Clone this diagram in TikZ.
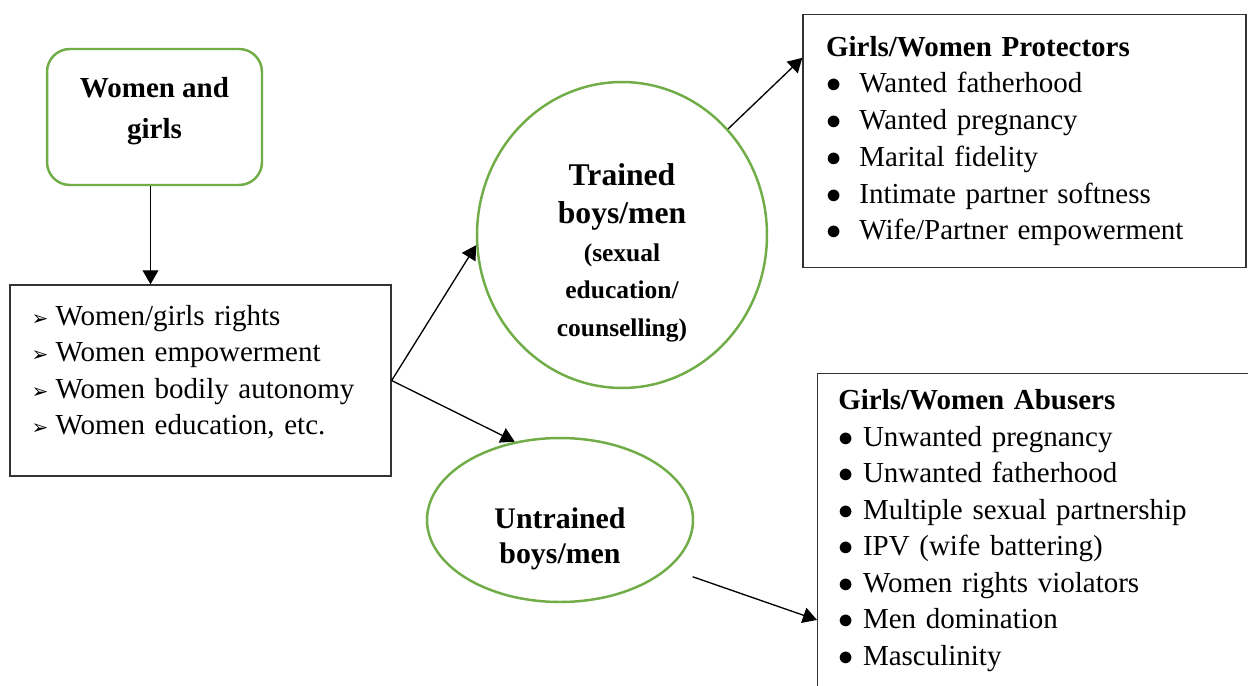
\documentclass[tikz,border=0pt]{standalone}
\usepackage{fontspec}
\setmainfont{Liberation Serif}
\newfontfamily\symfont{DejaVu Sans}
\usepackage{tikz}
\usetikzlibrary{shapes.geometric,arrows.meta}
\definecolor{grn}{HTML}{70AD47}
\definecolor{edge}{HTML}{333333}
\newcommand{\bul}[2]{\makebox[#1][l]{$\bullet$}#2}
\newcommand{\arh}[1]{\makebox[0.83em][l]{\symfont\fontsize{11.5}{11.5}\selectfont ➢}#1}
\tikzset{
  grnbox/.style={draw=grn, line width=1.4pt, rounded corners=13pt},
  grnoval/.style={draw=grn, line width=1.4pt, ellipse, inner sep=0pt},
  listbox/.style={draw=edge, line width=0.8pt, align=left},
  boldtxt/.style={align=center},
  arr/.style={-{Triangle[length=8pt,width=9pt]}, line width=0.75pt}
}

\begin{document}
\begin{tikzpicture}[x=0.02cm, y=-0.02cm]
  \clip (0,0) rectangle (1248,686);
  \fill[white] (0,0) rectangle (1248,686);

  % left column
  \node[grnbox, minimum width=4.3cm, minimum height=2.72cm] (women) at (154.5,117) {};
  \node[boldtxt, font=\fontsize{16.5}{23}\selectfont\bfseries] (womentxt) at (154.5,111) {Women and\\girls};
  \node[listbox, minimum width=7.62cm, minimum height=3.82cm] (rights) at (200.5,380.5) {};
  \node[align=left, text width=6.7cm, font=\fontsize{16.5}{20.7}\selectfont] (rightstxt) at (199,372)
    {\arh{Women/girls rights}\\ \arh{Women empowerment}\\ \arh{Women bodily autonomy}\\ \arh{Women education, etc.}};

  % the two groups of boys/men
  \node[grnoval, minimum width=5.8cm, minimum height=6.12cm] (trained) at (622,235) {};
  \node[boldtxt, font=\fontsize{18}{21.4}\selectfont\bfseries] (trainedtxt) at (622,253)
    {Trained\\ boys/men\\ \fontsize{14.5}{20.5}\selectfont (sexual\\
     \fontsize{14.5}{20.5}\selectfont education/\\ \fontsize{14.5}{20.5}\selectfont counselling)};
  \node[grnoval, minimum width=5.32cm, minimum height=3.28cm] (untrained) at (560,520) {};
  \node[boldtxt, font=\fontsize{17}{20}\selectfont\bfseries] (untrainedtxt) at (560,539) {Untrained\\boys/men};

  % outcomes
  \node[listbox, minimum width=8.86cm, minimum height=5.06cm, inner xsep=0.46cm,
        text width=7.94cm, font=\fontsize{16.5}{20.9}\selectfont] (protectors) at (1024.5,141)
    {\textbf{Girls/Women Protectors}\\ \bul{1.15em}{Wanted fatherhood}\\ \bul{1.15em}{Wanted pregnancy}\\
     \bul{1.15em}{Marital fidelity}\\ \bul{1.15em}{Intimate partner softness}\\ \bul{1.15em}{Wife/Partner empowerment}};
  \node[listbox, anchor=north west, minimum width=9.2cm, minimum height=7cm] (abusers) at (817,373) {};
  \node[align=left, anchor=north west, inner sep=0pt, text width=8.2cm,
        font=\fontsize{16.5}{20.8}\selectfont] (abuserstxt) at (838,389)
    {\textbf{Girls/Women Abusers}\\ \bul{0.85em}{Unwanted pregnancy}\\ \bul{0.85em}{Unwanted fatherhood}\\
     \bul{0.85em}{Multiple sexual partnership}\\ \bul{0.85em}{IPV (wife battering)}\\ \bul{0.85em}{Women rights violators}\\
     \bul{0.85em}{Men domination}\\ \bul{0.85em}{Masculinity}};

  \draw[arr] ([xshift=-0.08cm]women.south) -- ([xshift=-0.08cm]women.south |- rights.north);
  \draw[arr] (rights.east) -- (trained.184);
  \draw[arr] (rights.east) -- (untrained.120);
  \draw[arr] (trained.45) -- ([yshift=-0.88cm]protectors.north west);
  \draw[arr, shorten <=0.5cm] (untrained.-24) -- ([yshift=-4.94cm]abusers.north west);
\end{tikzpicture}
\end{document}
